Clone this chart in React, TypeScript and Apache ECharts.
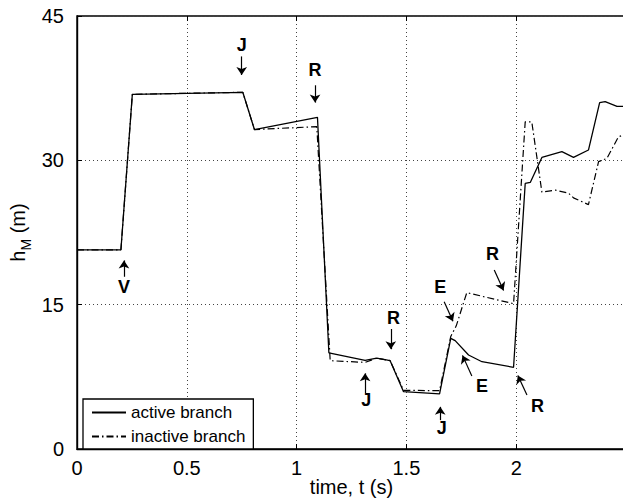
import React, { useEffect, useRef } from 'react';
import * as echarts from 'echarts';

// time (s) and h_M (m) for the two branches
const activeT = [0, 0.2, 0.252, 0.755, 0.808, 1.095, 1.147, 1.312, 1.365, 1.426, 1.487, 1.651, 1.702, 1.722, 1.783, 1.844, 1.988, 2.041, 2.064, 2.117, 2.208, 2.261, 2.329, 2.38, 2.405, 2.459, 2.5];
const activeH = [20.7, 20.7, 36.86, 37.07, 33.2, 34.47, 10.0, 9.2, 9.45, 9.18, 5.96, 5.72, 11.5, 11.26, 9.77, 9.07, 8.49, 27.6, 27.7, 30.3, 30.9, 30.3, 31.07, 36.0, 36.1, 35.6, 35.6];
const inactiveT = [0, 0.2, 0.252, 0.755, 0.808, 1.092, 1.153, 1.312, 1.365, 1.426, 1.487, 1.651, 1.702, 1.727, 1.775, 1.988, 2.041, 2.071, 2.117, 2.178, 2.238, 2.261, 2.329, 2.375, 2.413, 2.466, 2.5];
const inactiveH = [20.7, 20.7, 36.86, 37.07, 33.2, 33.5, 9.18, 9.0, 9.45, 9.18, 6.1, 6.06, 11.7, 12.8, 16.25, 15.1, 34.0, 34.0, 26.7, 26.9, 26.6, 26.1, 25.4, 29.86, 30.2, 32.46, 32.7];

const xTickLabels = ['0', '0.5', '1', '1.5', '2'];
const yTickLabels = ['0', '15', '30', '45'];

// event annotations: letter, label position, arrow tail, arrow head
const noteLetters = ['J', 'R', 'V', 'R', 'J', 'J', 'E', 'E', 'R', 'R'];
const noteLabelT = [0.75, 1.084, 0.214, 1.441, 1.317, 1.661, 1.654, 1.844, 2.097, 1.892];
const noteLabelH = [42.0, 39.4, 16.8, 13.65, 5.1, 2.15, 16.87, 6.55, 4.47, 20.27];
const arrowTailT = [0.75, 1.084, 0.214, 1.429, 1.312, 1.654, 1.672, 1.798, 2.049, 1.9];
const arrowTailH = [40.8, 37.8, 17.9, 12.47, 5.79, 3.0, 15.3, 7.59, 5.61, 18.6];
const arrowHeadT = [0.75, 1.084, 0.214, 1.429, 1.312, 1.654, 1.712, 1.7555, 2.0075, 1.9425];
const arrowHeadH = [38.87, 36.0, 19.6, 10.37, 7.86, 4.38, 13.28, 9.73, 7.65, 16.48];

const FONT = '"Liberation Sans", Arial, Helvetica, sans-serif';

export default function App() {
  const ref = useRef<HTMLDivElement>(null);
  useEffect(() => {
    if (!ref.current) return;
    const chart = echarts.init(ref.current, undefined, { renderer: 'svg' });
    const activeData = activeT.map((t, i) => [t, activeH[i]]);
    const inactiveData = inactiveT.map((t, i) => [t, inactiveH[i]]);
    const noteData = noteLetters.map((l, i) => [noteLabelT[i], noteLabelH[i], l]);
    const arrows = arrowTailT.map((t, i) => [
      { coord: [t, arrowTailH[i]] },
      { coord: [arrowHeadT[i], arrowHeadH[i]] },
    ]);
    chart.setOption({
      animation: false,
      backgroundColor: '#fff',
      textStyle: { fontFamily: FONT, color: '#000' },
      grid: {
        left: 77, top: 16, right: -3, bottom: 53,
        outerBoundsMode: 'none', containLabel: false,
        show: true, borderColor: '#000', borderWidth: 1.4, backgroundColor: 'transparent',
      },
      legend: {
        orient: 'vertical',
        left: 83, top: 399,
        data: ['active branch', 'inactive branch'],
        itemWidth: 34, itemHeight: 14, itemGap: 7,
        padding: [5, 8, 4, 8],
        borderColor: '#000', borderWidth: 1.3,
        backgroundColor: '#fff',
        itemStyle: { opacity: 0 },
        textStyle: { fontSize: 17, color: '#000', fontFamily: FONT },
      },
      xAxis: [
        {
          type: 'value', min: 0, max: 2.5, interval: 0.5,
          name: 'time, t (s)', nameLocation: 'middle', nameGap: 28, nameMoveOverlap: false,
          nameTextStyle: { fontSize: 20, color: '#000', fontFamily: FONT },
          axisLine: { show: true, lineStyle: { color: '#000', width: 1.4 } },
          axisTick: { show: true, inside: true, length: 5, lineStyle: { color: '#000' } },
          axisLabel: {
            fontSize: 20, color: '#000', fontFamily: FONT, margin: 9, showMaxLabel: false,
            formatter: (v: number) => {
              const i = Math.round(v / 0.5);
              return i < xTickLabels.length ? xTickLabels[i] : '';
            },
          },
          splitLine: { show: true, lineStyle: { color: '#444', width: 1, type: [1, 3] } },
        },
        {
          type: 'value', min: 0, max: 2.5, interval: 0.5, position: 'top',
          axisLine: { show: false },
          axisTick: { show: true, inside: true, length: 5, lineStyle: { color: '#000' } },
          axisLabel: { show: false },
          splitLine: { show: false },
        },
      ],
      yAxis: {
        type: 'value', min: 0, max: 45, interval: 15,
        name: '{h|h}{m|M}{h| (m)}', nameLocation: 'middle', nameGap: 44, nameMoveOverlap: false,
        nameTextStyle: {
          color: '#000',
          rich: {
            h: { fontSize: 20, fontFamily: FONT, color: '#000', verticalAlign: 'bottom', padding: [0, 0, 5, 0] },
            m: { fontSize: 14, fontFamily: FONT, color: '#000', verticalAlign: 'bottom' },
          },
        },
        axisLine: { show: true, lineStyle: { color: '#000', width: 1.4 } },
        axisTick: { show: true, inside: true, length: 5, lineStyle: { color: '#000' } },
        axisLabel: {
          fontSize: 20, color: '#000', fontFamily: FONT, margin: 13,
          formatter: (v: number) => yTickLabels[Math.round(v / 15)] ?? '',
        },
        splitLine: { show: true, lineStyle: { color: '#444', width: 1, type: [1, 3] } },
      },
      series: [
        {
          name: 'active branch', type: 'line', data: activeData,
          symbol: 'none', showSymbol: false, silent: true,
          lineStyle: { color: '#000', width: 1.3 },
          itemStyle: { color: '#000' },
          z: 3,
          markLine: {
            silent: true, animation: false,
            symbol: ['none', 'arrow'], symbolSize: 8,
            label: { show: false },
            lineStyle: { color: '#000', width: 1.2, type: 'solid' },
            emphasis: { disabled: true },
            data: arrows,
          },
        },
        {
          name: 'inactive branch', type: 'line', data: inactiveData,
          symbol: 'none', showSymbol: false, silent: true,
          lineStyle: { color: '#000', width: 1.2, type: [7, 3, 1.5, 3] },
          itemStyle: { color: '#000' },
          z: 2,
        },
        {
          name: 'notes', type: 'scatter', data: noteData,
          symbol: 'circle', symbolSize: 1, silent: true,
          itemStyle: { color: '#000', opacity: 0 },
          label: {
            show: true, position: 'inside',
            fontSize: 18, fontWeight: 'bold', color: '#000000', opacity: 1,
            fontFamily: FONT, textBorderWidth: 0, textBorderColor: 'transparent',
            formatter: (p: any) => p.value[2],
          },
          z: 4,
        },
      ],
    });
    return () => chart.dispose();
  }, []);
  return <div ref={ref} style={{ position: 'fixed', left: 0, top: 0, width: 623, height: 502 }} />;
}
